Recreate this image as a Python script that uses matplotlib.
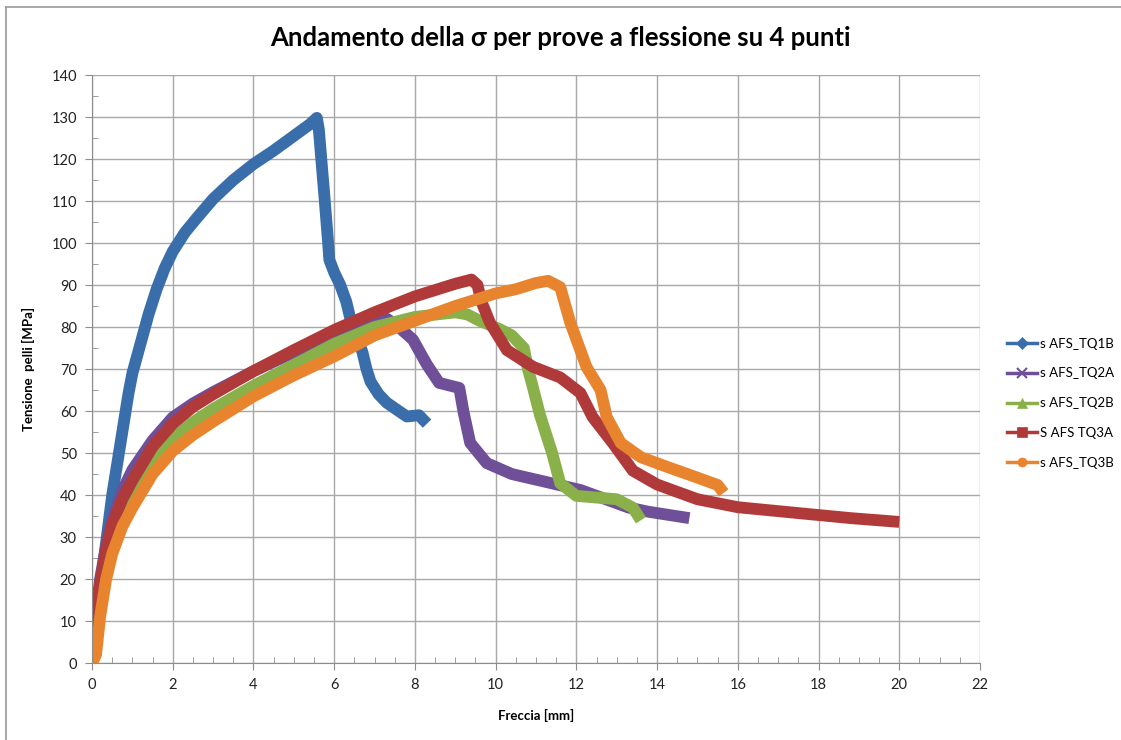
import matplotlib.pyplot as plt
from matplotlib.lines import Line2D
from matplotlib.ticker import MultipleLocator

# freccia [mm] / tensione [MPa]
tq1b_x = [0, 0.15, 0.3, 0.5, 0.75, 0.9, 1.0, 1.2, 1.4, 1.6, 1.8, 2.0, 2.3, 2.6, 3, 3.5,
          4, 4.5, 5, 5.4, 5.57, 5.62, 5.68, 5.75, 5.8, 5.85, 5.88, 6.0, 6.15, 6.3, 6.4,
          6.55, 6.7, 6.8, 6.9, 7.1, 7.3, 7.6, 7.8, 8.1, 8.3]
tq1b_y = [3, 14, 25, 40, 55, 64, 69, 76, 83, 89, 94, 98, 102.5, 106, 110.5, 115,
          118.8, 122, 125.5, 128.3, 129.8, 127, 120, 112, 106, 100, 96, 93, 90, 86, 82,
          78, 74, 70, 67, 64, 62, 60, 58.7, 59, 57]

tq2a_x = [0, 0.1, 0.2, 0.35, 0.5, 0.75, 1, 1.5, 2, 2.5, 3, 4, 5, 6, 7, 7.3, 7.6, 7.95,
          8.3, 8.6, 9.1, 9.2, 9.37, 9.78, 10.4, 11.3, 12.1, 13.3, 13.8, 14.8]
tq2a_y = [3, 12, 20, 28, 34, 41, 46, 53, 58.5, 61.8, 64.5, 69.5, 74, 78, 81.5, 82, 80, 77,
          71, 66.7, 65.5, 60, 52.4, 47.6, 45, 43, 41.2, 37, 36, 34.5]

tq2b_x = [0, 0.1, 0.2, 0.35, 0.5, 0.75, 1, 1.5, 2, 2.5, 3, 4, 5, 6, 7, 8, 9, 9.3, 9.6,
          10.1, 10.4, 10.7, 10.8, 10.9, 11.1, 11.4, 11.6, 12.0, 13.0, 13.4, 13.6]
tq2b_y = [0, 7, 14, 23, 30, 36.5, 41, 48, 53.5, 57.3, 60.5, 66, 71, 76, 80, 82.4, 83.5, 83,
          81.5, 79.5, 78, 75, 70, 66.5, 59, 50, 42.8, 39.8, 39, 37, 34]

tq3a_x = [0, 0.1, 0.2, 0.35, 0.5, 0.75, 1, 1.5, 2, 2.5, 3, 4, 5, 6, 7, 8, 9, 9.4, 9.55,
          9.65, 9.86, 10.28, 10.93, 11.6, 12.1, 12.4, 12.9, 13.4, 14.0, 15, 16, 17.5,
          18.8, 20]
tq3a_y = [4, 12, 19, 27, 33, 39, 43.5, 51.5, 57, 61, 64, 69.5, 74.5, 79.3, 83.5, 87.3, 90.3,
          91.3, 90, 86, 81, 74.5, 70.5, 68, 64.3, 58.6, 52.4, 45.8, 42.5, 39, 37.1, 35.7,
          34.5, 33.6]

tq3b_x = [0, 0.1, 0.2, 0.35, 0.5, 0.75, 1, 1.5, 2, 2.5, 3, 4, 5, 6, 7, 8, 9, 10, 10.5,
          11, 11.3, 11.6, 11.85, 12.25, 12.6, 12.75, 13.1, 13.6, 14.25, 14.75, 15.5, 15.65]
tq3b_y = [0, 2, 11, 20, 26, 32.5, 37, 45, 50.5, 54.3, 57.5, 63.5, 68.5, 73, 78, 81.5, 85, 88,
          89, 90.5, 91, 89.5, 81, 70.5, 65, 58.6, 52.4, 49, 46.7, 45, 42.4, 40.5]

series = [
    ('s AFS_TQ1B', tq1b_x, tq1b_y, '#3a6eaa', 'D'),
    ('s AFS_TQ2A', tq2a_x, tq2a_y, '#6e4f98', 'x'),
    ('s AFS_TQ2B', tq2b_x, tq2b_y, '#8ab04a', '^'),
    ('S AFS TQ3A', tq3a_x, tq3a_y, '#b03a3a', 's'),
    ('s AFS_TQ3B', tq3b_x, tq3b_y, '#e9842e', 'o'),
]

plt.rcParams['font.family'] = ['Lato', 'DejaVu Sans']

fig = plt.figure(figsize=(11.21, 7.4), dpi=100)
ax = fig.add_axes([0.0821, 0.104, 0.7921, 0.7946])

handles = []
for name, xs, ys, col, mk in series:
    ax.plot(xs, ys, color=col, lw=8.5, solid_capstyle='butt', solid_joinstyle='round')
    handles.append(Line2D([], [], color=col, lw=2.5, marker=mk, markersize=6.5,
                          markeredgewidth=1.5 if mk == 'x' else 0.5, label=name))

ax.set_xlim(0, 22)
ax.set_ylim(0, 140)
ax.xaxis.set_major_locator(MultipleLocator(2))
ax.xaxis.set_minor_locator(MultipleLocator(0.5))
ax.yaxis.set_major_locator(MultipleLocator(10))
ax.yaxis.set_minor_locator(MultipleLocator(5))
ax.grid(True, which='major', color='#a8a8a8', lw=1)
ax.set_axisbelow(True)
for s in ['top', 'right']:
    ax.spines[s].set_visible(False)
for s in ['left', 'bottom']:
    ax.spines[s].set_color('#8c8c8c')
ax.tick_params(which='major', direction='out', length=5, color='#8c8c8c',
               labelsize=10.5, labelcolor='#222222', pad=6)
ax.tick_params(which='minor', direction='in', length=4, color='#8c8c8c')

ax.set_xlabel('Freccia [mm]', fontsize=9.5, fontweight='bold', labelpad=12)
ax.set_ylabel('Tensione  pelli [MPa]', fontsize=9.5, fontweight='bold', labelpad=12)
fig.suptitle('Andamento della \u03c3 per prove a flessione su 4 punti',
             fontsize=18.5, fontweight='bold', y=0.965)

fig.legend(handles=handles, loc='center left', bbox_to_anchor=(0.898, 0.455),
           frameon=False, fontsize=9.5, handlelength=2.3, labelspacing=1.35,
           handletextpad=0.25, borderaxespad=0, borderpad=0)

# cornice grigia del grafico
fig.add_artist(Line2D([0.005, 0.005], [0, 0.99], color='#9a9a9a', lw=1.2))
fig.add_artist(Line2D([0.005, 1.0], [0.99, 0.99], color='#9a9a9a', lw=1.2))

fig.savefig('out.png', dpi=100)
